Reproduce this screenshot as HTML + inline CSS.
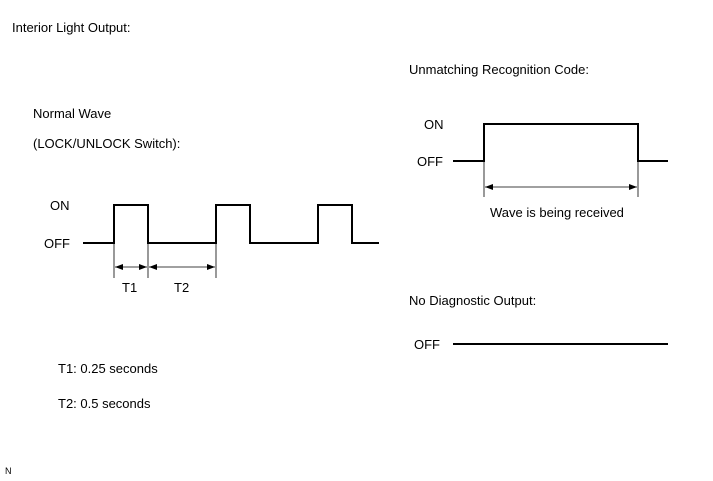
<!DOCTYPE html>
<html><head><meta charset="utf-8"><style>
html,body{margin:0;padding:0;background:#fff;}
svg{display:block;}
text{font-family:"Liberation Sans",Arial,sans-serif;font-size:13px;fill:#000;}
</style></head><body>
<svg width="713" height="481" viewBox="0 0 713 481" xmlns="http://www.w3.org/2000/svg">
<defs>
<marker id="a" markerWidth="8" markerHeight="6" refX="8" refY="3" orient="auto-start-reverse" markerUnits="userSpaceOnUse"><path d="M0,0 L8,3 L0,6 Z" fill="#000"/></marker>
</defs>
<text x="12" y="32">Interior Light Output:</text>
<text x="33" y="118">Normal Wave</text>
<text x="33" y="148">(LOCK/UNLOCK Switch):</text>
<text x="50" y="210">ON</text>
<text x="44" y="248">OFF</text>
<polyline points="83,243 114,243 114,205 148,205 148,243 216,243 216,205 250,205 250,243 318,243 318,205 352,205 352,243 379,243" fill="none" stroke="#000" stroke-width="2"/>
<g stroke="#000" stroke-width="0.8">
<line x1="114" y1="244" x2="114" y2="278"/>
<line x1="148" y1="244" x2="148" y2="278"/>
<line x1="216" y1="244" x2="216" y2="278"/>
<line x1="115" y1="267" x2="147" y2="267" marker-start="url(#a)" marker-end="url(#a)"/>
<line x1="149" y1="267" x2="215" y2="267" marker-start="url(#a)" marker-end="url(#a)"/>
</g>
<text x="122" y="292">T1</text>
<text x="174" y="292">T2</text>
<text x="58" y="373">T1: 0.25 seconds</text>
<text x="58" y="408">T2: 0.5 seconds</text>
<text x="409" y="74">Unmatching Recognition Code:</text>
<text x="424" y="129">ON</text>
<text x="417" y="166">OFF</text>
<polyline points="453,161 484,161 484,124 638,124 638,161 668,161" fill="none" stroke="#000" stroke-width="2"/>
<g stroke="#000" stroke-width="0.8">
<line x1="484" y1="162" x2="484" y2="197"/>
<line x1="638" y1="162" x2="638" y2="197"/>
<line x1="485" y1="187" x2="637" y2="187" marker-start="url(#a)" marker-end="url(#a)"/>
</g>
<text x="490" y="217">Wave is being received</text>
<text x="409" y="305">No Diagnostic Output:</text>
<text x="414" y="349">OFF</text>
<line x1="453" y1="344" x2="668" y2="344" stroke="#000" stroke-width="2"/>
<text x="5" y="474" style="font-size:9px">N</text>
</svg>
</body></html>
